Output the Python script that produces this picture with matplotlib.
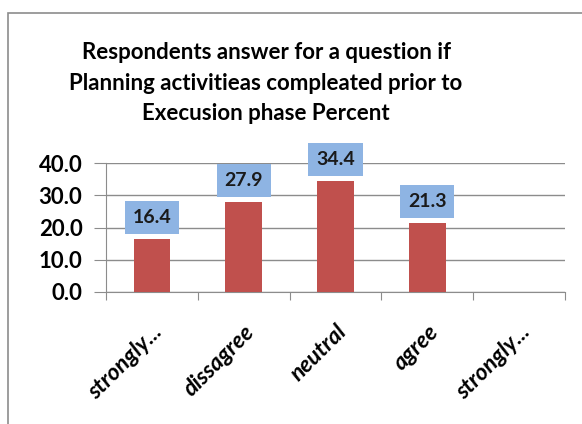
import matplotlib.pyplot as plt
import matplotlib.patches as patches
import matplotlib.transforms as mtrans
import numpy as np

# chart data
categories = ["strongly...", "dissagree", "neutral", "agree", "strongly..."]
percent = [16.4, 27.9, 34.4, 21.3, np.nan]
yticks = [0, 10, 20, 30, 40]

title = ("Respondents answer for a question if\n"
         "Planning activitieas compleated prior to\n"
         "Execusion phase Percent")

W, H = 582, 424
fig = plt.figure(figsize=(W / 100, H / 100), dpi=100)
plt.rcParams['font.family'] = ['Lato', 'DejaVu Sans']

# outer chart border (right/bottom edges run off the picture)
border = patches.Rectangle((8 / W, -0.1), 1.2, (H - 13) / H + 0.1,
                           transform=fig.transFigure, fill=False,
                           edgecolor="#8c8c8c", linewidth=1.2)
fig.add_artist(border)

ax = fig.add_axes([106 / W, 1 - 291.7 / H, (565 - 106) / W, (291.7 - 163.3) / H])

x = np.arange(len(categories))
ax.bar(x, percent, width=0.4, color="#C0504D", zorder=3)

for xi, v in zip(x, percent):
    if np.isnan(v):
        continue
    ax.annotate(f"{v:.1f}", (xi, v), xytext=(0, 9.5), textcoords="offset points",
                ha="center", va="bottom", fontsize=14, fontweight="bold",
                color="#1a1a1a", zorder=5,
                bbox=dict(boxstyle="square,pad=0.4", facecolor="#8EB4E3",
                          edgecolor="none"))

ax.set_xlim(-0.5, len(categories) - 0.5)
ax.set_ylim(0, 40)
ax.set_yticks(yticks)
ax.set_yticklabels([f"{t:.1f}" for t in yticks], fontsize=16, fontweight="bold")
ax.yaxis.grid(True, color="#8c8c8c", linewidth=1)
ax.set_axisbelow(True)

ax.set_xticks(np.arange(len(categories) + 1) - 0.5, minor=False)
ax.set_xticklabels([])
ax.set_xticks(x, minor=True)
ax.set_xticklabels(categories, minor=True, rotation=45, ha="right",
                   rotation_mode="anchor", fontsize=16.5, fontweight="bold",
                   fontstyle="italic")
shift = mtrans.ScaledTranslation(12 / 100, 0, fig.dpi_scale_trans)
for lab in ax.get_xticklabels(minor=True):
    lab.set_transform(lab.get_transform() + shift)
ax.tick_params(axis="x", which="minor", length=0, pad=21)
ax.tick_params(axis="x", which="major", length=6, color="#8c8c8c")
ax.tick_params(axis="y", length=9, color="#8c8c8c", pad=8)

for side in ["top", "right"]:
    ax.spines[side].set_visible(False)
ax.spines["left"].set_color("#8c8c8c")
ax.spines["bottom"].set_color("#8c8c8c")

fig.text(266 / W, 1 - 83 / H, title, ha="center", va="center",
         fontsize=16, fontweight="bold", linespacing=1.58)

fig.savefig("out.png", dpi=100)
